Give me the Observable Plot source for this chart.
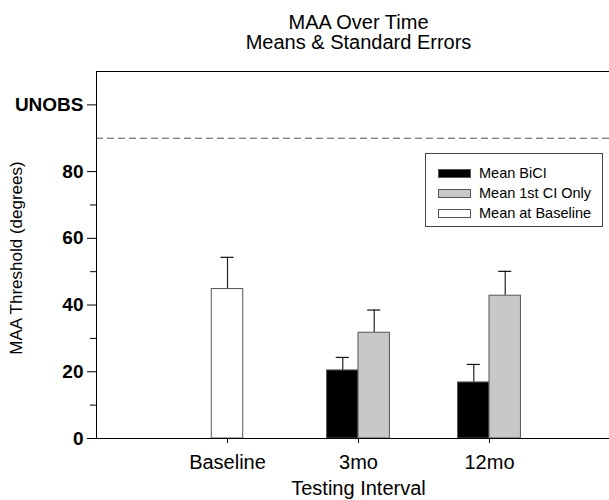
<!DOCTYPE html>
<html>
<head>
<meta charset="utf-8">
<script src="https://cdn.jsdelivr.net/npm/d3@7"></script>
<script src="https://cdn.jsdelivr.net/npm/@observablehq/plot@0.6"></script>
<style>
  html, body { margin: 0; padding: 0; background: #fff; overflow: hidden; }
  #wrap { position: relative; width: 622px; height: 500px; font-family: "Liberation Sans", Arial, sans-serif; }
  #legend { position: absolute; left: 425px; top: 153px; width: 178px; height: 74px; border: 1px solid #444; box-sizing: border-box; background: #fff; }
  .row { position: absolute; left: 12px; height: 14px; display: flex; align-items: center; font-size: 14.5px; color: #000; white-space: nowrap; }
  .sw { width: 33px; height: 9px; border: 1px solid #555; box-sizing: border-box; margin-right: 8px; }
</style>
</head>
<body>
<div id="wrap"></div>
<script>
// ---- data ----
const intervals = ["Baseline", "3mo", "12mo"];
const seriesNames = ["Mean BiCI", "Mean 1st CI Only", "Mean at Baseline"];
const seriesColors = ["#000000", "#c8c8c8", "#ffffff"];
const biciMean = [null, 20.4, 16.8];
const biciSE = [null, 3.9, 5.4];
const ciMean = [null, 31.7, 42.8];
const ciSE = [null, 6.8, 7.3];
const baselineMean = [44.8, null, null];
const baselineSE = [9.5, null, null];
const yTicks = [0, 20, 40, 60, 80, 100];
const yTickLabels = ["0", "20", "40", "60", "80", "UNOBS"];
const yMinorTicks = [10, 30, 50, 70];
const unobsLine = 90;

// ---- layout helpers ----
const barW = 0.24;
const capW = 0.05;
const series = [
  {mean: biciMean, se: biciSE, fill: seriesColors[0], offset: -barW},
  {mean: ciMean, se: ciSE, fill: seriesColors[1], offset: 0},
  {mean: baselineMean, se: baselineSE, fill: seriesColors[2], offset: -barW / 2}
];
const bars = [];
series.forEach(s => {
  intervals.forEach((lab, i) => {
    if (s.mean[i] == null) return;
    const x1 = i + 1 + s.offset;
    bars.push({x1, x2: x1 + barW, xc: x1 + barW / 2, mean: s.mean[i], top: s.mean[i] + s.se[i], fill: s.fill});
  });
});

const chart = Plot.plot({
  width: 622,
  height: 500,
  marginTop: 71,
  marginBottom: 62,
  marginLeft: 96,
  marginRight: 2,
  style: {fontFamily: "Liberation Sans, Arial, sans-serif", fontSize: "18px", color: "#000", background: "#fff"},
  x: {domain: [0, 4], axis: null},
  y: {domain: [0, 110], axis: null},
  marks: [
    Plot.ruleY([unobsLine], {stroke: "#555", strokeDasharray: "7,4", strokeWidth: 1.2}),
    Plot.ruleX(bars, {x: "xc", y1: "mean", y2: "top", stroke: "#222", strokeWidth: 1.2}),
    Plot.ruleY(bars, {y: "top", x1: d => d.xc - capW, x2: d => d.xc + capW, stroke: "#111", strokeWidth: 1.2}),
    Plot.rectY(bars, {x1: "x1", x2: "x2", y1: 0, y2: "mean", fill: "fill", stroke: "#555", strokeWidth: 1}),
    Plot.ruleY([0], {stroke: "#000", strokeWidth: 1.2}),
    Plot.ruleY([110], {stroke: "#000", strokeWidth: 1}),
    Plot.ruleX([0], {stroke: "#000", strokeWidth: 1}),
    Plot.axisY({ticks: yTicks, tickFormat: d => yTickLabels[yTicks.indexOf(d)], tickSize: 9, tickPadding: 4, fontSize: 19, fontWeight: "bold", label: null}),
    Plot.axisY({ticks: yMinorTicks, tickFormat: () => "", tickSize: 6, label: null}),
    Plot.axisX({ticks: [1, 2, 3], tickFormat: d => intervals[d - 1], tickSize: 5, tickPadding: 11, fontSize: 20, fontWeight: "normal", label: null}),
    Plot.text(["MAA Threshold (degrees)"], {frameAnchor: "left", textAnchor: "middle", lineAnchor: "middle", rotate: -90, dx: -80, dy: 3, fontSize: 17}),
    Plot.text(["Testing Interval"], {frameAnchor: "bottom", lineAnchor: "bottom", dy: 56, fontSize: 20}),
    Plot.text(["MAA Over Time"], {frameAnchor: "top", lineAnchor: "bottom", dy: -43, fontSize: 20}),
    Plot.text(["Means & Standard Errors"], {frameAnchor: "top", lineAnchor: "bottom", dy: -23, fontSize: 20})
  ]
});

const wrap = document.getElementById("wrap");
wrap.appendChild(chart);

// legend
const legend = document.createElement("div");
legend.id = "legend";
const rowTops = [12, 32, 52];
seriesNames.forEach((name, i) => {
  const row = document.createElement("div");
  row.className = "row";
  row.style.top = rowTops[i] + "px";
  const sw = document.createElement("div");
  sw.className = "sw";
  sw.style.background = seriesColors[i];
  const t = document.createElement("span");
  t.textContent = name;
  row.appendChild(sw);
  row.appendChild(t);
  legend.appendChild(row);
});
wrap.appendChild(legend);
</script>
</body>
</html>
